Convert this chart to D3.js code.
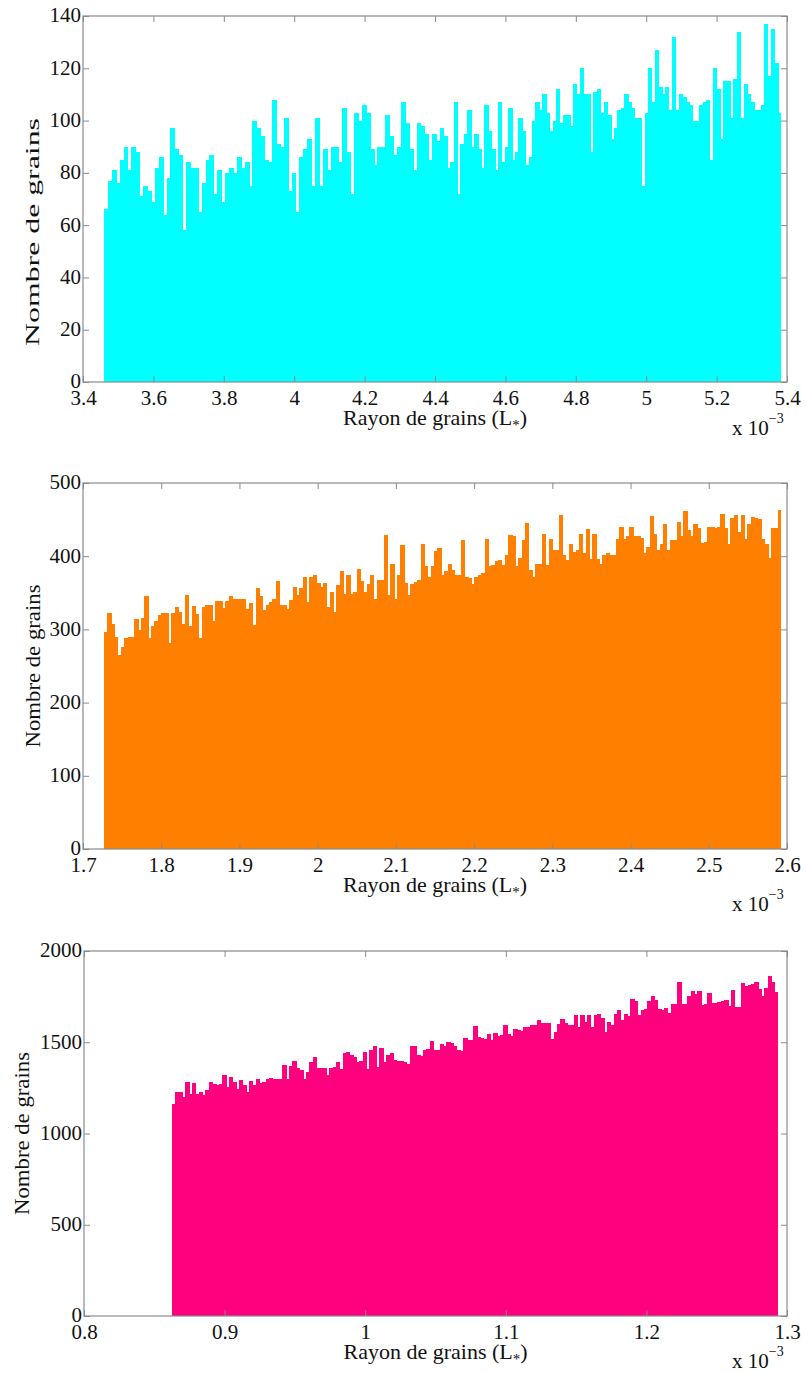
<!DOCTYPE html>
<html><head><meta charset="utf-8">
<script src="https://cdn.jsdelivr.net/npm/d3@7"></script>
<style>html,body{margin:0;padding:0;background:#fff;} svg{display:block;}</style>
</head><body>
<script>
// ---------- DATA ----------
// cyan histogram, read in two stretches of the x axis
const cyanCountsA = [66,77,81,76,85,90,81,90,88,71,75,73,69,82,86,64,78,97,89,87,58,84,82,82,65,76,85,87,72,81,69,80,82,80,86,82,84,75,100,97,94,85,84,108,91,90,101,73,80,65,86,89,93,75,101,75,89,81,90,90,84,105,88,72,103,100,106,103,89,83,90,90,102,94,87,90,107,99,
89,81,99,98,95,85,95,92];
const cyanRangeA = [3.4597, 4.4142];
const cyanCountsB = [97,94,82,84,107,72,91,95,104,90,95,89,82,106,96,89,81,107,84,90,105,85,88,101,96,83,86,100,107,104,110,103,96,100,112,99,102,102,98,114,110,120,110,110,88,111,112,103,107,102,93,97,104,105,110,107,105,101,101,75,103,120,107,127,113,110,113,104,132,104,110,109,107,106,100,100,106,107,108,85,120,112,93,115,115,101,116,134,101,114,110,107,104,104,106,137,117,135,122,103];
const cyanRangeB = [4.4142, 5.3830];
const cyanXTicks = [3.4,3.6,3.8,4.0,4.2,4.4,4.6,4.8,5.0,5.2,5.4];
const cyanXTickLabels = ["3.4","3.6","3.8","4","4.2","4.4","4.6","4.8","5","5.2","5.4"];
const cyanYTicks = [0,20,40,60,80,100,120,140];

const orangeCounts = [297,322,308,290,265,276,288,289,290,314,299,315,345,288,305,311,319,322,323,281,322,330,324,308,347,304,332,321,288,331,334,334,311,339,339,329,339,346,342,342,342,342,328,336,306,357,345,327,333,337,342,366,333,333,328,340,358,347,357,372,337,371,374,364,358,364,331,351,324,360,380,348,374,348,351,383,366,351,362,375,342,367,367,429,347,389,342,374,415,364,347,362,365,367,416,386,372,386,407,
411,374,380,390,381,375,375,422,371,370,362,372,375,377,424,387,388,393,395,388,402,429,427,387,398,422,445,381,372,389,390,430,388,423,409,408,456,402,395,416,406,409,431,404,437,396,430,396,389,402,404,402,402,424,440,424,427,440,427,427,425,405,412,455,430,408,416,444,408,422,422,447,427,462,436,427,444,438,418,419,440,440,438,440,457,438,416,452,456,433,456,424,444,454,452,451,424,416,398,438,438,463];
const orangeRange = [1.7268, 2.5923];
const orangeXTicks = [1.7,1.8,1.9,2.0,2.1,2.2,2.3,2.4,2.5,2.6];
const orangeXTickLabels = ["1.7","1.8","1.9","2","2.1","2.2","2.3","2.4","2.5","2.6"];
const orangeYTicks = [0,100,200,300,400,500];

const pinkCounts = [1164,1228,1228,1200,1283,1219,1277,1215,1228,1210,1237,1283,1270,1265,1270,1319,1255,1310,1283,1246,1292,1265,1228,1288,1265,1296,1277,1283,1301,1306,1301,1296,1296,1374,1301,1369,1398,1361,1347,1301,1338,1392,1420,1361,1361,1361,1319,1361,1365,1392,1356,1442,1447,1429,1420,1392,1398,1447,1356,1456,1478,1365,1471,1392,1429,1442,1401,1398,1398,1392,1383,1478,1478,1429,1423,1460,1465,1507,1460,1460,1489,1478,1500,1495,1482,1460,1453,1526,1511,1515,1588,1529,
1526,1520,1544,1511,1551,1533,1538,1593,1544,1533,1575,1566,1562,1584,1584,1593,1593,1620,1606,1606,1606,1520,1557,1598,1630,1606,1593,1593,1647,1584,1647,1611,1647,1584,1647,1657,1635,1557,1611,1593,1657,1679,1624,1657,1642,1739,1726,1647,1679,1684,1726,1752,1730,1684,1679,1690,1661,1712,1712,1830,1712,1712,1752,1781,1763,1781,1704,1709,1770,1715,1715,1720,1726,1733,1697,1788,1693,1693,1825,1807,1812,1818,1830,1794,1752,1800,1861,1830,1774];
const pinkRange = [0.8626, 1.2934];
const pinkXTicks = [0.8,0.9,1.0,1.1,1.2,1.3];
const pinkXTickLabels = ["0.8","0.9","1","1.1","1.2","1.3"];
const pinkYTicks = [0,500,1000,1500,2000];

const yLabelText = "Nombre de grains";
const xLabelMain = "Rayon de grains (L";
const xLabelSub = "*";
const xLabelEnd = ")";
const expBase = "x 10";
const expPow = "\u22123";

// ---------- DRAW ----------
const FONT = "'Liberation Serif','Times New Roman',serif";
const svg = d3.select("body").append("svg").attr("width",806).attr("height",1373);

function makeBins(counts, range){
  const w = (range[1]-range[0])/counts.length;
  return counts.map((c,i)=>({x0:range[0]+i*w, x1:range[0]+(i+1)*w, c}));
}

function panel(opt){
  const g = svg.append("g");
  const x = d3.scaleLinear().domain([opt.xTicks[0], opt.xTicks[opt.xTicks.length-1]]).range([opt.left, opt.right]);
  const y = d3.scaleLinear().domain([opt.yTicks[0], opt.yTicks[opt.yTicks.length-1]]).range([opt.bottom, opt.top]);
  const bins = [].concat(...opt.series.map(s=>makeBins(s.counts, s.range)));
  const n = bins.length;
  g.append("g").attr("shape-rendering","crispEdges").selectAll("rect").data(bins).join("rect")
    .attr("x", d=>x(d.x0))
    .attr("width", (d,i)=> x(d.x1)-x(d.x0) + (i<n-1?1:0))
    .attr("y", d=>y(d.c))
    .attr("height", d=>y(0)-y(d.c))
    .attr("fill", opt.color);

  const axisColor = "#8a8a8a";
  const tk = 6;
  const ax = (axisGen, tx, ty) => {
    const a = g.append("g").attr("transform",`translate(${tx},${ty})`).call(axisGen);
    a.select(".domain").remove();
    a.selectAll("line").attr("stroke", axisColor);
    return a;
  };
  const xb = ax(d3.axisBottom(x).tickValues(opt.xTicks).tickSizeInner(-tk).tickSizeOuter(0)
      .tickFormat((d,i)=>opt.xTickLabels[i]), 0, opt.bottom);
  xb.selectAll("text").attr("y", 23).attr("dy", null)
    .attr("font-family", FONT).attr("font-size", 21).attr("fill", "#111");
  ax(d3.axisTop(x).tickValues(opt.xTicks).tickSizeInner(-tk).tickSizeOuter(0).tickFormat(""), 0, opt.top);
  const yl = ax(d3.axisLeft(y).tickValues(opt.yTicks).tickSizeInner(-tk).tickSizeOuter(0).tickFormat(d3.format("d")), opt.left, 0);
  yl.selectAll("text").attr("x", -2).attr("dy", "0.28em")
    .attr("font-family", FONT).attr("font-size", 21).attr("fill", "#111");
  ax(d3.axisRight(y).tickValues(opt.yTicks).tickSizeInner(-tk).tickSizeOuter(0).tickFormat(""), opt.right, 0);

  g.append("rect").attr("x", opt.left).attr("y", opt.top)
    .attr("width", opt.right-opt.left).attr("height", opt.bottom-opt.top)
    .attr("fill","none").attr("stroke", axisColor).attr("stroke-width", 1.2);

  // y label
  const cy = opt.yLabelCenter ?? (opt.top+opt.bottom)/2;
  g.append("text").attr("transform", `translate(${opt.yLabelX},${cy}) rotate(-90)`)
    .attr("text-anchor","middle").attr("font-family", FONT).attr("font-size", opt.yLabelSize).attr("fill","#111")
    .attr("textLength", opt.yLabelLen).attr("lengthAdjust","spacingAndGlyphs")
    .text(yLabelText);

  // x label
  const xt = g.append("text").attr("x", (opt.left+opt.right)/2).attr("y", opt.bottom+43)
    .attr("text-anchor","middle").attr("font-family", FONT).attr("font-size", 22).attr("fill","#111");
  xt.append("tspan").text(xLabelMain);
  xt.append("tspan").attr("dy", 5).attr("font-size", 15).text(xLabelSub);
  xt.append("tspan").attr("dy", -5).text(xLabelEnd);

  // exponent
  const et = g.append("text").attr("x", opt.right-55).attr("y", opt.bottom+opt.expDy)
    .attr("font-family", FONT).attr("font-size", 21).attr("fill","#111");
  et.append("tspan").text(expBase);
  et.append("tspan").attr("dy", -12).attr("font-size", 14).text(expPow);
}

panel({left:83, right:787, top:16, bottom:382, xTicks:cyanXTicks, xTickLabels:cyanXTickLabels,
  yTicks:cyanYTicks, series:[{counts:cyanCountsA, range:cyanRangeA},{counts:cyanCountsB, range:cyanRangeB}],
  color:"#00ffff", yLabelX:39, yLabelLen:228, yLabelSize:19, yLabelCenter:232, expDy:53});
panel({left:83, right:787, top:483, bottom:849, xTicks:orangeXTicks, xTickLabels:orangeXTickLabels,
  yTicks:orangeYTicks, series:[{counts:orangeCounts, range:orangeRange}],
  color:"#ff8000", yLabelX:40, yLabelLen:163, yLabelSize:22, expDy:62});
panel({left:84, right:787, top:951, bottom:1316, xTicks:pinkXTicks, xTickLabels:pinkXTickLabels,
  yTicks:pinkYTicks, series:[{counts:pinkCounts, range:pinkRange}],
  color:"#ff007f", yLabelX:29, yLabelLen:163, yLabelSize:22, expDy:52});
</script>
</body></html>
